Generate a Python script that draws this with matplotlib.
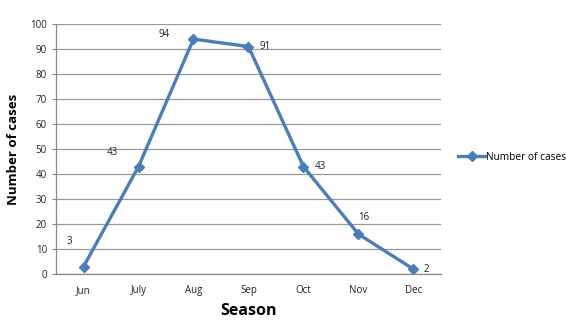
import matplotlib.pyplot as plt

months = ["Jun", "July", "Aug", "Sep", "Oct", "Nov", "Dec"]
cases = [3, 43, 94, 91, 43, 16, 2]
# label offsets (points) relative to each marker
label_offsets = [(-10, 18), (-19, 10), (-21, 3), (12, 0), (12, 0), (4, 12), (9, 0)]

plt.rcParams['font.family'] = ['Open Sans', 'DejaVu Sans']

fig = plt.figure(figsize=(5.66, 3.21), dpi=100)
ax = fig.add_axes([0.099, 0.146, 0.68, 0.779])

x = range(len(months))
line, = ax.plot(x, cases, color='#4a7ebb', lw=2.4, marker='D', ms=5,
                label='Number of cases')

for xi, yi, (dx, dy) in zip(x, cases, label_offsets):
    ax.annotate(str(yi), (xi, yi), xytext=(dx, dy), textcoords='offset points',
                ha='center', va='center', fontsize=7, color='#222222')

ax.set_xlim(-0.5, len(months) - 0.5)
ax.set_ylim(0, 100)
ax.set_yticks(range(0, 101, 10))
ax.set_xticks(list(x))
ax.set_xticklabels(months)
ax.tick_params(axis='both', labelsize=7, colors='#888888', labelcolor='#222222',
               length=3, width=0.8)
ax.tick_params(axis='x', length=0, pad=8)
ax.grid(axis='y', color='#999999', lw=0.9)
ax.set_axisbelow(True)
for s in ['top', 'right']:
    ax.spines[s].set_visible(False)
for s in ['left', 'bottom']:
    ax.spines[s].set_color('#888888')
    ax.spines[s].set_linewidth(0.9)

ax.set_ylabel('Number of cases', fontsize=9.5, fontweight='bold', labelpad=7)
ax.set_xlabel('Season', fontsize=11.5, fontweight='bold', labelpad=5)

fig.legend(handles=[line], loc='center left', bbox_to_anchor=(0.81, 0.51),
           frameon=False, fontsize=7.3, handlelength=2.6, handletextpad=0.1,
           borderpad=0, borderaxespad=0)

fig.savefig('out.png', dpi=100)
